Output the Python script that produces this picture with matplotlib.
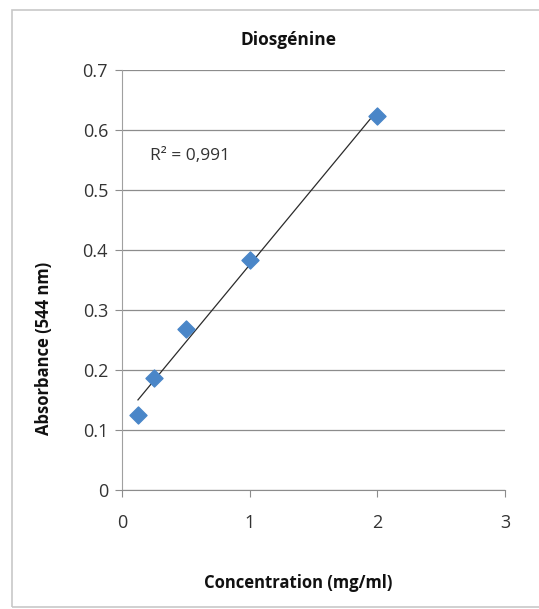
import numpy as np
import matplotlib.pyplot as plt
from matplotlib.patches import Rectangle

# data
concentration = [0.125, 0.25, 0.5, 1.0, 2.0]
absorbance = [0.125, 0.186, 0.268, 0.384, 0.624]
x_ticks = [0, 1, 2, 3]
y_ticks = [0, 0.1, 0.2, 0.3, 0.4, 0.5, 0.6, 0.7]
y_ticklabels = ['0', '0.1', '0.2', '0.3', '0.4', '0.5', '0.6', '0.7']
r2_label = "R² = 0,991"

plt.rcParams['font.family'] = ['Open Sans', 'DejaVu Sans']

W, H = 539, 609
fig = plt.figure(figsize=(W/100, H/100), dpi=100)
fig.patch.set_facecolor('white')

# chart frame
fig.patches.append(Rectangle((12/W, 2/H), 1.0, 1 - 12/H, transform=fig.transFigure,
                             fill=False, edgecolor='#c8c8c8', linewidth=1.2))

ax = fig.add_axes([122/W, 1 - 490/H, (505 - 122)/W, (490 - 70)/H])

# linear trendline
slope, intercept = np.polyfit(concentration, absorbance, 1)
xs = np.array([min(concentration), max(concentration)])
ax.plot(xs, slope*xs + intercept, color='#2b2b2b', linewidth=0.9, zorder=3)

ax.scatter(concentration, absorbance, marker='D', s=75, color='#4a86c8',
           edgecolors='#4a86c8', zorder=4)

ax.set_xlim(0, 3)
ax.set_ylim(0, 0.7)
ax.set_xticks(x_ticks)
ax.set_yticks(y_ticks)
ax.set_yticklabels(y_ticklabels)
ax.grid(axis='y', color='#8c8c8c', linewidth=0.9)
ax.set_axisbelow(True)

for side in ['top', 'right']:
    ax.spines[side].set_visible(False)
ax.spines['left'].set_color('#a0a0a0')
ax.spines['bottom'].set_color('#8c8c8c')
ax.tick_params(axis='both', direction='out', length=5, color='#8c8c8c',
               labelsize=13, labelcolor='#333333')
ax.tick_params(axis='x', pad=12)
ax.tick_params(axis='y', pad=5)

ax.text(0.22, 0.55, r2_label, fontsize=12.5, color='#333333')

fig.text(289/W, 1 - 40/H, 'Diosgénine', fontsize=12.5, fontweight='bold',
         ha='center', va='center', color='#111111')
ax.set_xlabel('Concentration (mg/ml)', fontsize=12, fontweight='bold', color='#111111')
ax.xaxis.set_label_coords((298 - 122)/383, -(583 - 490)/420)
ax.xaxis.label.set_va('center')
ax.set_ylabel('Absorbance (544 nm)', fontsize=12, fontweight='bold', color='#111111')
ax.yaxis.set_label_coords(-(122 - 44)/383, (490 - 348)/420)
ax.yaxis.label.set_va('center')

fig.savefig('out.png', dpi=100)
